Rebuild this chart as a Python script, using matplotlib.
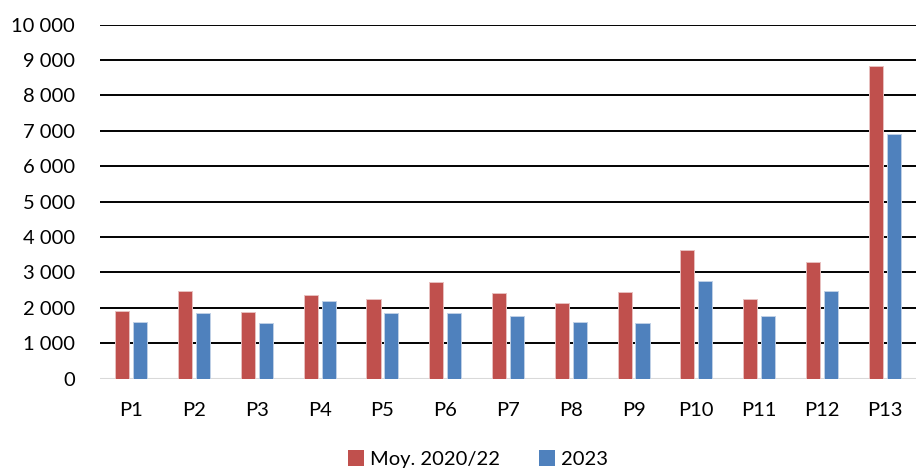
import matplotlib
matplotlib.use("Agg")
import matplotlib.pyplot as plt
import numpy as np
from matplotlib.patches import Patch

categories = ["P1", "P2", "P3", "P4", "P5", "P6", "P7", "P8", "P9", "P10", "P11", "P12", "P13"]
moy_2020_22 = [1900, 2480, 1870, 2350, 2250, 2720, 2415, 2140, 2440, 3640, 2250, 3300, 8820]
val_2023 = [1600, 1840, 1570, 2180, 1840, 1860, 1760, 1610, 1580, 2760, 1760, 2460, 6900]
series_labels = ["Moy. 2020/22", "2023"]
y_ticks = list(range(0, 10001, 1000))

RED = "#C0504D"
BLUE = "#4F81BD"

plt.rcParams["font.family"] = ["Lato", "DejaVu Sans"]

W, H = 916, 473
fig = plt.figure(figsize=(W / 100, H / 100), dpi=100)
ax = fig.add_axes([100 / W, 1 - 378.5 / H, 816 / W, (378.5 - 24.7) / H])

x = np.arange(len(categories))
bw = 0.225
off = 0.143
ax.bar(x - off, moy_2020_22, bw, color=RED, edgecolor="#E8C0BF", linewidth=0.7, zorder=3)
ax.bar(x + off, val_2023, bw, color=BLUE, edgecolor="#BFD0E6", linewidth=0.7, zorder=3)

ax.set_xlim(-0.5, len(categories) - 0.5)
ax.set_ylim(0, 10000)
ax.set_yticks(y_ticks)
ax.set_yticklabels([f"{v:,}".replace(",", " ") for v in y_ticks])
ax.set_xticks(x)
ax.set_xticklabels(categories)

for v in y_ticks[1:]:
    ax.axhline(v, color="black", linewidth=1.4, zorder=1)
ax.axhline(0, color="#D9D9D9", linewidth=1.5, zorder=2)

for s in ax.spines.values():
    s.set_visible(False)
ax.tick_params(axis="both", length=0, labelsize=14.5, colors="black")
ax.tick_params(axis="y", pad=18)
ax.tick_params(axis="x", pad=17)

handles = [Patch(facecolor=RED, edgecolor="none"), Patch(facecolor=BLUE, edgecolor="none")]
fig.legend(handles, series_labels, loc="center", bbox_to_anchor=(478 / W, 1 - 459 / H),
           ncol=2, frameon=False, fontsize=14.5, handlelength=0.8, handleheight=0.8,
           handletextpad=0.3, columnspacing=1.9, borderpad=0.0)

fig.savefig("out.png", dpi=100)
